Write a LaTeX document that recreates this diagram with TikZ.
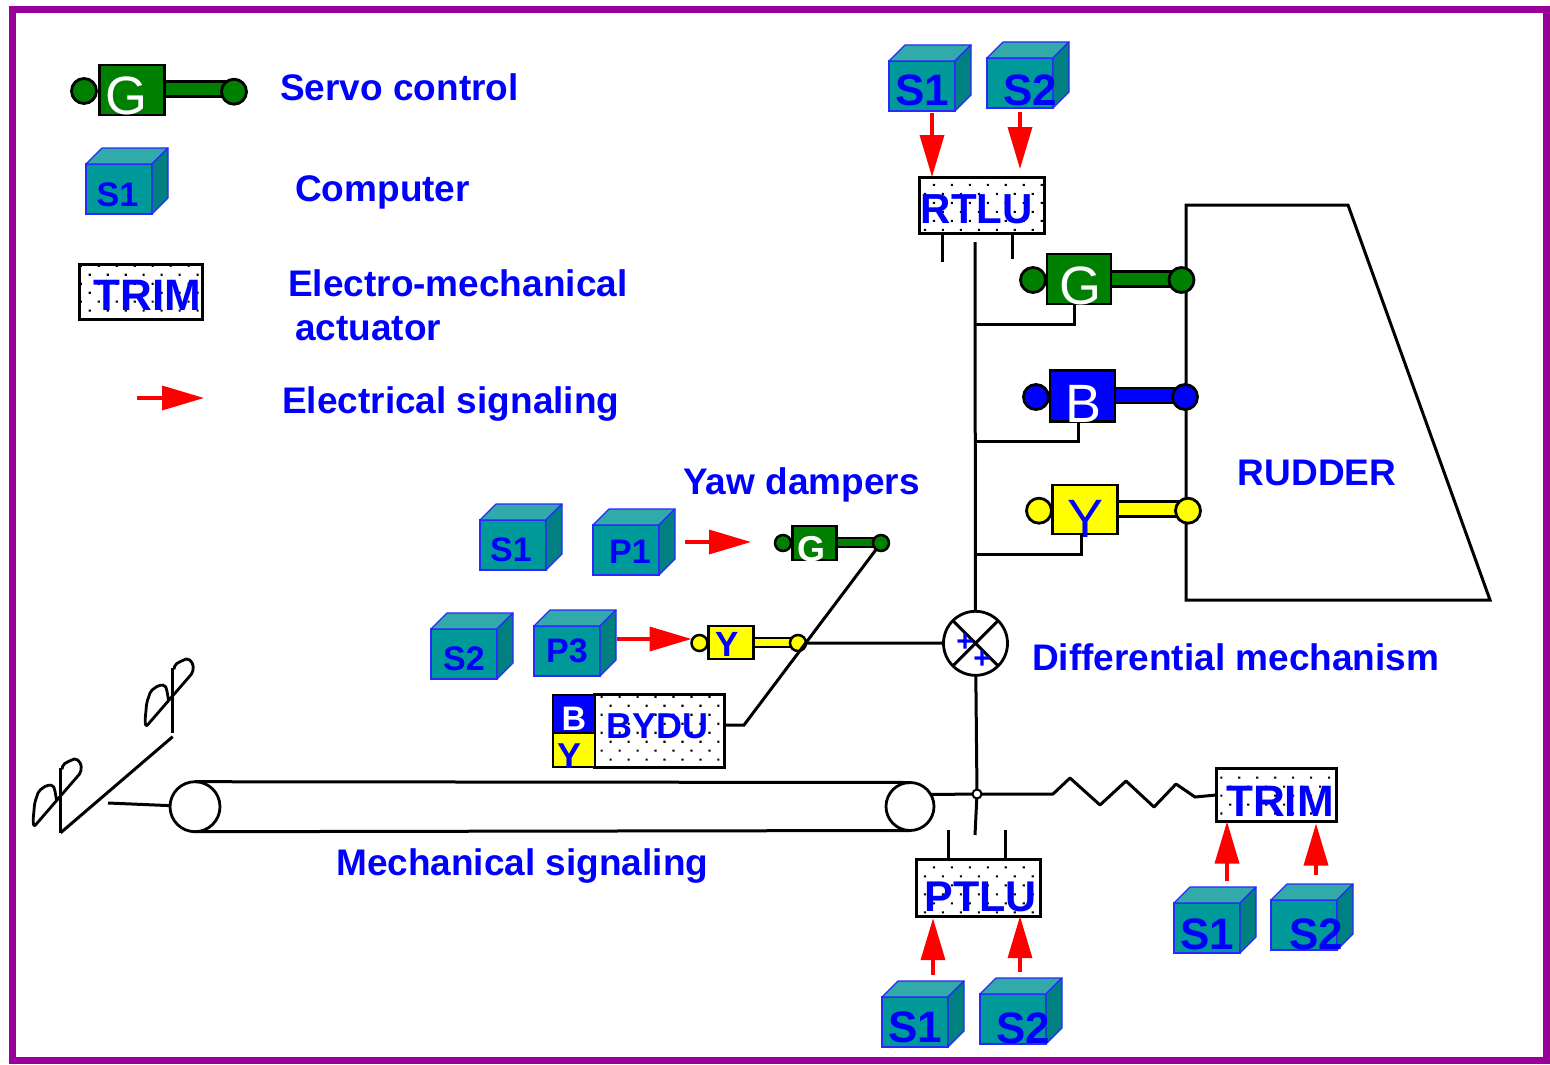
\documentclass[tikz,border=0pt]{standalone}
\usepackage{fontspec}
\setmainfont{Liberation Sans}
\usetikzlibrary{arrows.meta,patterns.meta,calc}

\definecolor{lblue}{RGB}{0,0,255}
\definecolor{sgreen}{RGB}{0,128,0}
\definecolor{syellow}{RGB}{255,255,0}
\definecolor{cfront}{RGB}{0,153,153}
\definecolor{ctop}{RGB}{51,170,170}
\definecolor{cside}{RGB}{0,128,128}
\definecolor{cedge}{RGB}{40,40,255}
\definecolor{fpurple}{RGB}{153,0,153}

\tikzset{
  lbl/.style={text=lblue, font=\fontsize{37}{40}\selectfont\bfseries, inner sep=0pt, anchor=base west},
  shaft/.style={line width=3pt},
  sig/.style={draw=red, line width=3.5pt, -{Triangle[length=42pt,width=24pt]}},
  ema/.style={draw, line width=3pt, preaction={fill=white},
    pattern={Dots[distance=12.7pt,angle=45,radius=1.5pt]}, inner sep=0pt, outer sep=0pt},
  ematxt/.style={text=lblue, font=\fontsize{#1}{#1}\selectfont\bfseries, inner sep=0pt, anchor=base},
  ematxt/.default=44,
  face/.style={draw=cedge, line width=1.2pt, fill=cfront, minimum width=66pt, minimum height=50pt,
    inner sep=0pt, outer sep=0pt},
  facetxt/.style={text=lblue, font=\fontsize{#1}{#1}\selectfont\bfseries, inner sep=0pt, anchor=base},
  ball/.style={circle, draw, line width=2.8pt, minimum size=#1, inner sep=0pt, outer sep=0pt},
  ball/.default=25pt,
  jack/.style={draw, line width=2.8pt, minimum width=64pt, minimum height=50pt, inner sep=0pt, outer sep=0pt},
  rod/.style={draw, line width=2.8pt, minimum height=15pt, inner sep=0pt, outer sep=0pt},
  jacktxt/.style={font=\fontsize{54}{54}\selectfont, inner sep=0pt, anchor=base},
  pedal/.pic={
    \draw[line width=2.8pt] (0,0) -- (0,-65);
    \draw[line width=2.8pt, line join=round, rounded corners=2pt]
      (1.3,-63.3) -- (2.3,-68.3) -- (10.7,-72.7) -- (15.7,-74.3) -- (20.7,-68.3) -- (20,-60)
      -- (-26.7,-6) -- (-27.7,-11.7) -- (-26,-30) -- (-22,-41.7) -- (-14.3,-47.3)
      -- (-7.7,-47.7) -- (-6,-43.3) -- (-4.3,-33.3);
  },
}

% name, centre of front face, text, font size, text x shift, text lift
\newcommand\compbox[6]{%
  \node[face] (#1) at (#2) {};
  \filldraw[draw=cedge, line width=1.2pt, fill=ctop, line join=round]
    (#1.north west) -- ++(16,-16) -- ([shift={(16,-16)}]#1.north east) -- (#1.north east) -- cycle;
  \filldraw[draw=cedge, line width=1.2pt, fill=cside, line join=round]
    (#1.north east) -- ++(16,-16) -- ([shift={(16,-16)}]#1.south east) -- (#1.south east) -- cycle;
  \node[facetxt=#4] (#1-txt) at ([shift={(#5,-#6)}]#1.south) {#3};
}

\begin{document}
\begin{tikzpicture}[x=1pt,y=-1pt]
  \useasboundingbox (0,0) rectangle (1550,1065);
  \draw[fpurple, line width=7pt] (12,9.5) rectangle (1546,1060);

  % legend
  \node[rod, fill=sgreen, minimum width=64pt] (lgRod) at (196,89) {};
  \node[ball, fill=sgreen] (lgL) at (84,91) {};
  \node[jack, fill=sgreen, minimum width=65pt] (lgBox) at (131.7,90) {};
  \node[ball, fill=sgreen] (lgR) at (234,91.7) {};
  \node[jacktxt, text=white] (lgBox-txt) at (126,114) {G};
  \compbox{lS1}{119,189}{S1}{34}{-1.5}{8}
  \node[ema, minimum width=123pt, minimum height=55pt] (lTrim) at (140.5,291.5) {};
  \node[ematxt] (lTrim-txt) at ([shift={(7,-9)}]lTrim.south) {TRIM};
  \coordinate (sigTail) at (137,398);
  \coordinate (sigHead) at (204,398);
  \draw[sig] (sigTail) -- (sigHead);

  \node[lbl] (tServo) at (280,100) {Servo control};
  \node[lbl] (tComp) at (295,201) {Computer};
  \node[lbl] (tEma) at (288,296) {Electro-mechanical};
  \node[lbl] (tEma2) at (295,340) {actuator};
  \node[lbl] (tSig) at (282,413) {Electrical signaling};
  \node[lbl] (tYaw) at (683,494) {Yaw dampers};
  \node[lbl] (tDiff) at (1032,670) {Differential mechanism};
  \node[lbl] (tMech) at (336,875) {Mechanical signaling};

  % rudder
  \draw[shaft] (1186,205) -- (1348,205) -- (1490,600) -- (1186,600) -- cycle;
  \node[lbl, anchor=base] (rudder) at (1317,485) {RUDDER};

  % rudder travel limitation and servo controls
  \compbox{tS1}{922,86}{S1}{44}{0}{5}
  \compbox{tS2}{1020,83}{S2}{44}{10}{2}
  \node[ema, minimum width=125pt, minimum height=56pt] (rtlu) at (981.7,205) {};
  \node[ematxt=42] (rtlu-txt) at ([shift={(-5,-9.7)}]rtlu.south) {RTLU};
  \coordinate (aT1) at ($(tS1.south)+(10,2)$);
  \coordinate (aT2) at ($(tS2.south)+(0,4)$);
  \draw[sig] (aT1) -- (aT1 |- rtlu.north);
  \draw[sig, shorten >=8pt] (aT2) -- (aT2 |- rtlu.north);
  \draw[shaft] ([xshift=-39pt]rtlu.south) -- ++(0,29);
  \draw[shaft] ([xshift=31pt]rtlu.south) -- ++(0,26);

  \node[rod, fill=sgreen, minimum width=72pt] (gRod) at (1146,279) {};
  \node[ball, fill=sgreen] (gL) at (1033,280) {};
  \node[jack, fill=sgreen] (gBox) at (1079,279) {};
  \node[ball, fill=sgreen] (gR) at (1181.5,280) {};
  \node[jacktxt, text=white] (gBox-txt) at (1080,304) {G};

  \node[rod, fill=lblue, minimum width=72pt] (bRod) at (1150,395.5) {};
  \node[ball, fill=lblue] (bL) at (1036,397) {};
  \node[jack, fill=lblue, minimum width=65pt, minimum height=51pt] (bBox) at (1082.5,396) {};
  \node[ball, fill=lblue] (bR) at (1185,397) {};
  \node[jacktxt, text=white] (bBox-txt) at (1083,422) {B};

  \node[rod, fill=syellow, minimum width=72pt] (yRod) at (1153,509) {};
  \node[ball, fill=syellow] (yL) at (1039,510.7) {};
  \node[jack, fill=syellow, minimum width=65pt, minimum height=49pt] (yBox) at (1085.3,509.5) {};
  \node[ball, fill=syellow] (yR) at (1188,510.7) {};
  \node[jacktxt, text=lblue] (yBox-txt) at (1085,537) {Y};

  % differential and main shaft
  \coordinate (shTop) at (975,242);
  \coordinate (shBot) at (975,835);
  \node[ball=64pt, fill=white] (diff) at (975.5,643.3) {};
  \draw[shaft] (diff.45) -- (diff.225) (diff.135) -- (diff.315);
  \node[text=lblue, font=\fontsize{30}{30}\selectfont\bfseries, inner sep=0pt] (plusA) at (965,643) {+};
  \node[text=lblue, font=\fontsize{30}{30}\selectfont\bfseries, inner sep=0pt] (plusB) at (982,660) {+};
  \node[ball=9pt, line width=2pt, fill=white] (pivot) at (977,794) {};
  \draw[shaft] (shTop) -- (diff);
  \draw[shaft] (diff) -- (pivot);
  \draw[shaft] (pivot) -- (shBot);
  \draw[shaft] ([xshift=-5pt]gBox.south) -- ++(0,20) coordinate (gTap) -- (gTap -| shTop);
  \draw[shaft] ([xshift=-4pt]bBox.south) -- ++(0,20) coordinate (bTap) -- (bTap -| shTop);
  \draw[shaft] ([xshift=-4pt]yBox.south) -- ++(0,20) coordinate (yTap) -- (yTap -| shTop);

  % yaw dampers
  \compbox{yS1}{513,545}{S1}{34}{-2}{9}
  \compbox{yP1}{626,550}{P1}{34}{4}{12}
  \compbox{yS2}{464,654}{S2}{34}{0}{9}
  \compbox{yP3}{567,651}{P3}{34}{0}{14}

  \node[rod, line width=2.5pt, fill=sgreen, minimum width=46pt, minimum height=9pt] (gdRod) at (858,542.5) {};
  \node[ball=16pt, line width=2.5pt, fill=sgreen] (gdL) at (783,543) {};
  \node[jack, line width=2.5pt, fill=sgreen, minimum width=44pt, minimum height=34pt] (gdBox) at (814.5,543) {};
  \node[ball=16pt, line width=2.5pt, fill=sgreen] (gdR) at (881,543) {};
  \node[jacktxt, font=\fontsize{36}{36}\selectfont\bfseries, text=white] (gdBox-txt) at (811.7,561) {G};

  \node[rod, line width=2.5pt, fill=syellow, minimum width=46pt, minimum height=9pt] (ydRod) at (776,642.3) {};
  \node[ball=16pt, line width=2.5pt, fill=syellow] (ydL) at (699.5,643) {};
  \node[jack, line width=2.5pt, fill=syellow, minimum width=45pt, minimum height=33pt] (ydBox) at (731,642.7) {};
  \node[ball=16pt, line width=2.5pt, fill=syellow] (ydR) at (798,643) {};
  \node[jacktxt, font=\fontsize{35}{35}\selectfont\bfseries, text=lblue] (ydBox-txt) at (727.5,656.7) {Y};

  \coordinate (aP1) at ($(yP1.east)+(26,-8)$);
  \coordinate (aP3) at ($(yP3.east)+(17,-12)$);
  \draw[sig, shorten >=24pt] (aP1) -- (aP1 -| gdL.west);
  \draw[sig] (aP3) -- (aP3 -| ydL.west);

  \node[ema, minimum width=130pt, minimum height=73pt] (bydu) at (659,730.5) {};
  \node[ematxt=36] (bydu-txt) at ([shift={(-1.5,-28.7)}]bydu.south) {BYDU};
  \node[jack, fill=lblue, minimum width=42pt, minimum height=38pt] (bySq) at (574,714) {};
  \node[jack, fill=syellow, minimum width=42pt, minimum height=34pt] (ySq) at (574,750) {};
  \node[jacktxt, font=\fontsize{34}{34}\selectfont\bfseries, text=white] (bySq-txt) at (574,730) {B};
  \node[jacktxt, font=\fontsize{36}{36}\selectfont\bfseries, text=lblue] (ySq-txt) at (569,768) {Y};

  \coordinate (ydLink) at (744,725);
  \draw[shaft] (gdR) -- (ydLink) -- (bydu.east |- ydLink);
  \draw[shaft] (ydR) -- (diff);

  % pedals, cable and trim
  \pic at (172.7,732.7) {pedal};
  \pic at (60.7,832.7) {pedal};
  \coordinate (pedR) at (172.7,736.7);
  \coordinate (pedL) at (60.7,832.7);
  \draw[shaft] (pedL) -- (pedR);
  \node[ball=50pt] (pulL) at (195,806.7) {};
  \node[ball=48pt] (pulR) at (910,806.5) {};
  \coordinate (pedRod) at (108,803);
  \draw[shaft] (pedRod) -- (pulL);
  \draw[shaft] (pulL.north) -- (pulR.north) (pulL.south) -- (pulR.south);

  \node[ema, minimum width=120pt, minimum height=53pt] (trim) at (1276,795) {};
  \node[ematxt] (trim-txt) at ([shift={(4,-5)}]trim.south) {TRIM};
  \draw[shaft] (pulR.30) -- (pivot);
  \draw[shaft, line join=round] (pivot) -- ++(76,0) -- ++(17,-16) -- ++(30,27) -- ++(26,-24)
    -- ++(28,26) -- ++(22,-23) -- ++(19,13) -- (trim.west);

  \compbox{rS1}{1207,928}{S1}{44}{0}{4}
  \compbox{rS2}{1304,925}{S2}{44}{12}{1}
  \coordinate (aR1) at ($(rS1.north)+(20,-22)$);
  \coordinate (aR2) at ($(rS2.north)+(12,-25)$);
  \draw[sig] (aR1) -- (aR1 |- trim.south);
  \draw[sig, shorten >=2pt] (aR2) -- (aR2 |- trim.south);

  \node[ema, minimum width=124pt, minimum height=57pt] (ptlu) at (978.7,887.7) {};
  \node[ematxt=43] (ptlu-txt) at ([shift={(2,-5)}]ptlu.south) {PTLU};
  \draw[shaft] ([xshift=-30pt]ptlu.north) -- ++(0,-29);
  \draw[shaft] ([xshift=26.5pt]ptlu.north) -- ++(0,-29);
  \compbox{pS1}{915,1022}{S1}{44}{0}{5}
  \compbox{pS2}{1013,1019}{S2}{44}{10}{1}
  \coordinate (aB1) at ($(pS1.north)+(18,-22)$);
  \coordinate (aB2) at ($(pS2.north)+(7,-22)$);
  \draw[sig, shorten >=2pt] (aB1) -- (aB1 |- ptlu.south);
  \draw[sig] (aB2) -- (aB2 |- ptlu.south);
\end{tikzpicture}
\end{document}
